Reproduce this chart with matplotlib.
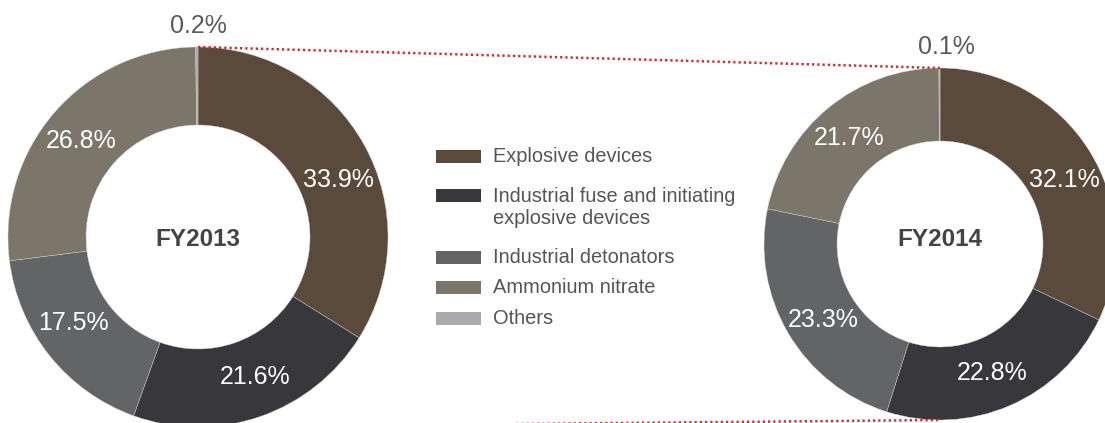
import matplotlib.pyplot as plt
from matplotlib.patches import Rectangle
import numpy as np

plt.rcParams['font.family'] = ['Liberation Sans', 'DejaVu Sans']

# Données
categories = ['Explosive devices',
              'Industrial fuse and initiating\nexplosive devices',
              'Industrial detonators',
              'Ammonium nitrate',
              'Others']
share_2013 = [33.9, 21.6, 17.5, 26.8, 0.2]
share_2014 = [32.1, 22.8, 23.3, 21.7, 0.1]
years = ['FY2013', 'FY2014']

colors = ['#5a4a3c', '#38373c', '#636466', '#7c766a', '#a9a9ae']
red = '#d7282f'
W, H = 1105, 423

fig = plt.figure(figsize=(W / 100, H / 100), dpi=100)
ax = fig.add_axes([0, 0, 1, 1])


def Y(y):
    # coordonnées image (haut = 0) -> coordonnées axe
    return H - y


# position, rayon, épaisseur et décalage d'angle des étiquettes
donuts = [
    dict(values=share_2013, title=years[0], center=(198, Y(237)), radius=190, width=78,
         nudge=[-7, 3, -4, 1.5], title_dy=-2, small_dx=0),
    dict(values=share_2014, title=years[1], center=(940, Y(244)), radius=176, width=73,
         nudge=[-5, -1.5, 2.6, 1.3], title_dy=5, small_dx=6),
]

for d in donuts:
    cx, cy = d['center']
    wedges, _ = ax.pie(d['values'], colors=colors, startangle=90, counterclock=False,
                       center=d['center'], radius=d['radius'],
                       wedgeprops=dict(width=d['width'], edgecolor='#d0d0d0', linewidth=0.3))
    r_lab = d['radius'] - d['width'] / 2
    for i, (w, v) in enumerate(zip(wedges, d['values'])):
        if i == len(wedges) - 1:
            # petite part : étiquette au-dessus de l'anneau
            ax.text(cx + d['small_dx'], cy + d['radius'] + 21, f'{v:.1f}%', ha='center',
                    va='center', fontsize=18, color='#5a5a5a')
            continue
        ang = np.deg2rad((w.theta1 + w.theta2) / 2 + d['nudge'][i])
        ax.text(cx + r_lab * np.cos(ang), cy + r_lab * np.sin(ang), f'{v:.1f}%',
                ha='center', va='center', fontsize=18, color='white')
    ax.text(cx, cy + d['title_dy'], d['title'], ha='center', va='center', fontsize=17.5,
            fontweight='bold', color='#444444')

# lignes pointillées rouges entre les deux anneaux
l, r = donuts
ax.plot([l['center'][0], r['center'][0]],
        [l['center'][1] + l['radius'], r['center'][1] + r['radius']],
        color=red, lw=1.8, dashes=(0.9, 1.2), zorder=5)
ax.plot([l['center'][0], r['center'][0]],
        [l['center'][1] - l['radius'], r['center'][1] - r['radius']],
        color=red, lw=1.8, dashes=(0.9, 1.2), zorder=5)

# légende
legend_y = [156, 195, 257, 287, 318]
for lab, col, y in zip(categories, colors, legend_y):
    ax.add_patch(Rectangle((436, Y(y) - 6.5), 45, 13, color=col, lw=0))
    n = lab.count('\n')
    ax.text(493, Y(y + n * 12.5), lab, ha='left', va='center', fontsize=14.4,
            color='#555555', linespacing=1.25)

ax.set_xlim(0, W)
ax.set_ylim(0, H)
ax.set_aspect('auto')
ax.axis('off')

plt.savefig('out.png', dpi=100)
plt.close()
